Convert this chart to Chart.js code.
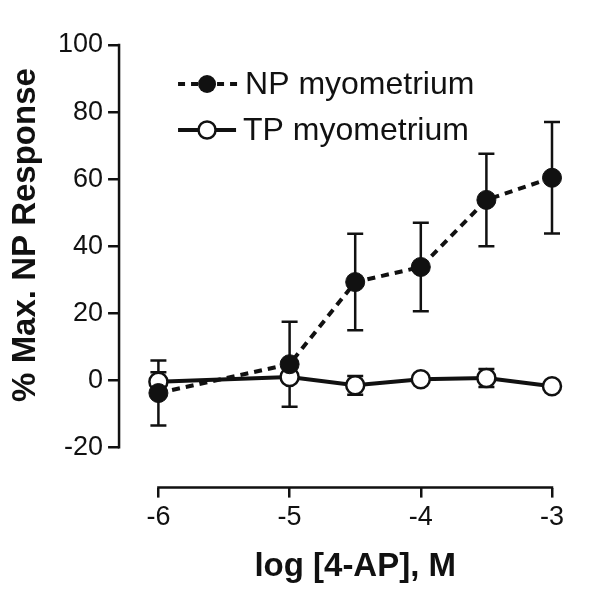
<!DOCTYPE html>
<html>
<head>
<meta charset="utf-8">
<script src="https://cdn.jsdelivr.net/npm/chart.js@4.4.0/dist/chart.umd.min.js"></script>
<style>
  html, body { margin: 0; padding: 0; background: #fff; }
  #wrap { width: 600px; height: 607px; }
</style>
</head>
<body>
<div id="wrap"><canvas id="myChart" width="600" height="607"></canvas></div>
<script>
// log concentration of 4-AP (M)
const logConc = [-6, -5, -4.5, -4, -3.5, -3];

// NP myometrium, mean and error
const npMean = [-3.8, 4.8, 29.3, 33.8, 53.8, 60.4];
const npErr = [9.7, 12.7, 14.4, 13.2, 13.8, 16.6];

// TP myometrium, mean and error
const tpMean = [-0.4, 1.0, -1.5, 0.3, 0.7, -1.8];
const tpErr = [2.8, 1.5, 2.8, 1.2, 2.7, 1.0];

const seriesNames = ['NP myometrium', 'TP myometrium'];
const xTicks = [-6, -5, -4, -3];
const yTicks = [-20, 0, 20, 40, 60, 80, 100];
const xTitle = 'log [4-AP], M';
const yTitle = '% Max. NP Response';

const ink = '#111';
const fontFam = '"Liberation Sans", Arial, Helvetica, sans-serif';

function toPoints(xs, ys){
  return xs.map((x, i) => ({x: x, y: ys[i]}));
}

// error bars under the markers
const errorBars = {
  id: 'errorBars',
  beforeDatasetsDraw(chart){
    const ctx = chart.ctx;
    const xs = chart.scales.x, ys = chart.scales.y;
    const sets = [[npMean, npErr], [tpMean, tpErr]];
    ctx.save();
    ctx.strokeStyle = ink;
    ctx.lineWidth = 2.5;
    sets.forEach(s => {
      logConc.forEach((x, i) => {
        const px = xs.getPixelForValue(x);
        const top = ys.getPixelForValue(s[0][i] + s[1][i]);
        const bot = ys.getPixelForValue(s[0][i] - s[1][i]);
        ctx.beginPath();
        ctx.moveTo(px, top); ctx.lineTo(px, bot);
        ctx.moveTo(px - 8, top); ctx.lineTo(px + 8, top);
        ctx.moveTo(px - 8, bot); ctx.lineTo(px + 8, bot);
        ctx.stroke();
      });
    });
    ctx.restore();
  }
};

// detached axis lines, titles and the legend inside the plot
const decorations = {
  id: 'decorations',
  afterDraw(chart){
    const ctx = chart.ctx;
    const xs = chart.scales.x, ys = chart.scales.y;
    const area = chart.chartArea;
    ctx.save();
    ctx.strokeStyle = ink;
    ctx.lineWidth = 2.5;
    ctx.beginPath();
    ctx.moveTo(area.left, ys.getPixelForValue(yTicks[yTicks.length - 1]) - 1.25);
    ctx.lineTo(area.left, ys.getPixelForValue(yTicks[0]) + 1.25);
    ctx.moveTo(xs.getPixelForValue(xTicks[0]) - 1.25, area.bottom);
    ctx.lineTo(xs.getPixelForValue(xTicks[xTicks.length - 1]) + 1.25, area.bottom);
    ctx.stroke();

    // axis titles
    ctx.fillStyle = ink;
    ctx.font = 'bold 33px ' + fontFam;
    ctx.textAlign = 'center';
    ctx.textBaseline = 'middle';
    const xMid = (xs.getPixelForValue(xTicks[0]) + xs.getPixelForValue(xTicks[xTicks.length - 1])) / 2;
    ctx.fillText(xTitle, xMid, 567);
    ctx.save();
    ctx.translate(26, 235);
    ctx.rotate(-Math.PI / 2);
    ctx.fillText(yTitle, 0, 0);
    ctx.restore();

    // legend
    const lx = area.left + 59, rowY = [area.top + 39, area.top + 85];
    ctx.lineWidth = 4;
    ctx.setLineDash([7, 6]);
    ctx.beginPath();
    ctx.moveTo(lx, rowY[0]); ctx.lineTo(lx + 60, rowY[0]);
    ctx.stroke();
    ctx.setLineDash([]);
    ctx.beginPath();
    ctx.moveTo(lx, rowY[1]); ctx.lineTo(lx + 58, rowY[1]);
    ctx.stroke();
    ctx.lineWidth = 2.5;
    ctx.beginPath();
    ctx.arc(lx + 29, rowY[0], 9, 0, Math.PI * 2);
    ctx.fill();
    ctx.beginPath();
    ctx.arc(lx + 29, rowY[1], 8.5, 0, Math.PI * 2);
    ctx.fillStyle = '#fff';
    ctx.fill();
    ctx.stroke();
    ctx.fillStyle = ink;
    ctx.font = '32px ' + fontFam;
    ctx.textAlign = 'left';
    ctx.fillText(seriesNames[0], lx + 67, rowY[0] + 1);
    ctx.fillText(seriesNames[1], lx + 65, rowY[1] + 1);
    ctx.restore();
  }
};

new Chart(document.getElementById('myChart'), {
  type: 'line',
  data: {
    datasets: [{
      label: seriesNames[0],
      data: toPoints(logConc, npMean),
      borderColor: ink,
      borderWidth: 4,
      borderDash: [8, 6],
      pointRadius: 9.5,
      pointBackgroundColor: ink,
      pointBorderColor: ink,
      pointBorderWidth: 1,
      order: 0,
      clip: false
    }, {
      label: seriesNames[1],
      data: toPoints(logConc, tpMean),
      borderColor: ink,
      borderWidth: 4,
      pointRadius: 9,
      pointBackgroundColor: '#fff',
      pointBorderColor: ink,
      pointBorderWidth: 2.5,
      order: 1,
      clip: false
    }]
  },
  options: {
    responsive: false,
    animation: false,
    layout: { padding: { left: 53, right: 48, top: 45, bottom: 69 } },
    plugins: { legend: { display: false }, tooltip: { enabled: false } },
    scales: {
      x: {
        type: 'linear',
        min: -6.3,
        max: -3,
        afterBuildTicks: s => { s.ticks = xTicks.map(v => ({value: v})); },
        border: { display: false },
        grid: { drawOnChartArea: false, drawTicks: true, tickLength: 10, color: ink, lineWidth: 2.5 },
        ticks: { color: ink, padding: 4, maxRotation: 0, font: { family: fontFam, size: 27 } }
      },
      y: {
        type: 'linear',
        min: -32,
        max: 100,
        afterBuildTicks: s => { s.ticks = yTicks.map(v => ({value: v})); },
        border: { display: false },
        grid: { drawOnChartArea: false, drawTicks: true, tickLength: 11, color: ink, lineWidth: 2.5 },
        ticks: { color: ink, padding: 5, font: { family: fontFam, size: 27 } }
      }
    }
  },
  plugins: [errorBars, decorations]
});
</script>
</body>
</html>
